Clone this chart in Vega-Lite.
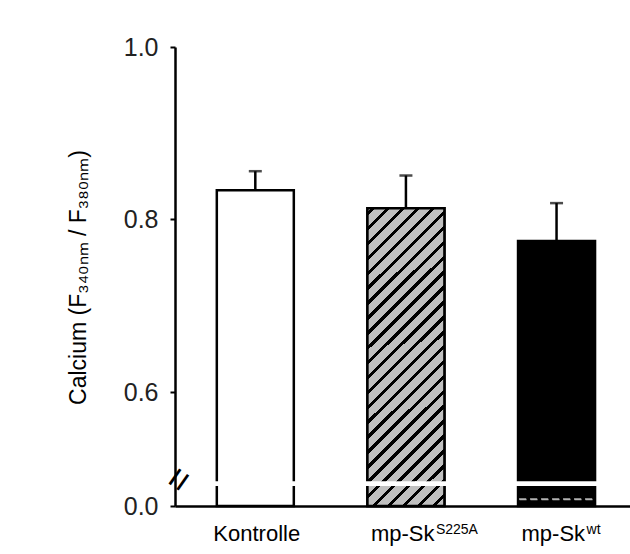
{
  "$schema": "https://vega.github.io/schema/vega-lite/v6.json",
  "width": 455,
  "height": 459,
  "autosize": "none",
  "padding": {"left": 175, "top": 47, "right": 0, "bottom": 48},
  "background": "white",
  "config": {"view": {"stroke": null}, "font": "Liberation Sans"},
  "data": {
    "values": [
      {"idx": 1, "group": "Kontrolle", "label": "Kontrolle", "sup": "", "mean": 0.834, "upper": 0.856},
      {"idx": 2, "group": "S225A", "label": "mp-Sk", "sup": "S225A", "mean": 0.813, "upper": 0.851},
      {"idx": 3, "group": "wt", "label": "mp-Sk", "sup": "wt", "mean": 0.775, "upper": 0.819}
    ]
  },
  "encoding": {
    "x": {
      "field": "idx",
      "type": "quantitative",
      "scale": {"domain": [0.5, 3.4545], "nice": false, "zero": false},
      "axis": {"title": null, "labels": false, "ticks": false, "grid": false, "domainColor": "black", "domainWidth": 2.5}
    }
  },
  "layer": [
    {
      "mark": {"type": "bar", "orient": "vertical", "width": 77, "stroke": "black", "strokeWidth": 2.5},
      "encoding": {
        "y": {
          "field": "mean",
          "type": "quantitative",
          "scale": {"domain": [0, 0.6, 1.0], "range": [459, 345, 0], "nice": false, "zero": false},
          "axis": {
            "title": "Calcium (F₃₄₀ₙₘ / F₃₈₀ₙₘ)",
            "values": [0, 0.6, 0.8, 1.0],
            "format": ".1f",
            "grid": false,
            "domainColor": "black",
            "domainWidth": 2.5,
            "tickColor": "black",
            "tickWidth": 2,
            "tickSize": 5,
            "labelFontSize": 25,
            "labelColor": "#222222",
            "labelPadding": 12,
            "labelFlush": false,
            "labelOverlap": false,
            "labelFont": "Liberation Sans",
            "titleFont": "Liberation Sans",
            "titleFontSize": 23,
            "titleFontWeight": "normal",
            "titleColor": "black",
            "titleX": -97,
            "titleY": 230,
            "titleAngle": -90,
            "titleAlign": "center",
            "titleBaseline": "middle"
          }
        },
        "y2": {"datum": 0},
        "fill": {
          "field": "group",
          "type": "nominal",
          "scale": {"domain": ["Kontrolle", "S225A", "wt"], "range": ["white", "#c0c0c0", "black"]},
          "legend": null
        }
      }
    },
    {
      "transform": [{"filter": "datum.group === 'S225A'"}],
      "mark": {
        "type": "bar",
        "orient": "vertical",
        "width": 77,
        "stroke": "black",
        "strokeWidth": 2.5,
        "fill": {
          "gradient": "linear",
          "x1": 0, "y1": 0, "x2": 0.303, "y2": 1.179,
          "stops": [
            {"offset": 0, "color": "#c0c0c0"},
            {"offset": 0.0100, "color": "#c0c0c0"}, {"offset": 0.0100, "color": "black"}, {"offset": 0.0220, "color": "black"}, {"offset": 0.0220, "color": "#c0c0c0"},
            {"offset": 0.0498, "color": "#c0c0c0"}, {"offset": 0.0498, "color": "black"}, {"offset": 0.0618, "color": "black"}, {"offset": 0.0618, "color": "#c0c0c0"},
            {"offset": 0.0896, "color": "#c0c0c0"}, {"offset": 0.0896, "color": "black"}, {"offset": 0.1016, "color": "black"}, {"offset": 0.1016, "color": "#c0c0c0"},
            {"offset": 0.1294, "color": "#c0c0c0"}, {"offset": 0.1294, "color": "black"}, {"offset": 0.1414, "color": "black"}, {"offset": 0.1414, "color": "#c0c0c0"},
            {"offset": 0.1692, "color": "#c0c0c0"}, {"offset": 0.1692, "color": "black"}, {"offset": 0.1812, "color": "black"}, {"offset": 0.1812, "color": "#c0c0c0"},
            {"offset": 0.2090, "color": "#c0c0c0"}, {"offset": 0.2090, "color": "black"}, {"offset": 0.2210, "color": "black"}, {"offset": 0.2210, "color": "#c0c0c0"},
            {"offset": 0.2488, "color": "#c0c0c0"}, {"offset": 0.2488, "color": "black"}, {"offset": 0.2608, "color": "black"}, {"offset": 0.2608, "color": "#c0c0c0"},
            {"offset": 0.2886, "color": "#c0c0c0"}, {"offset": 0.2886, "color": "black"}, {"offset": 0.3006, "color": "black"}, {"offset": 0.3006, "color": "#c0c0c0"},
            {"offset": 0.3284, "color": "#c0c0c0"}, {"offset": 0.3284, "color": "black"}, {"offset": 0.3404, "color": "black"}, {"offset": 0.3404, "color": "#c0c0c0"},
            {"offset": 0.3682, "color": "#c0c0c0"}, {"offset": 0.3682, "color": "black"}, {"offset": 0.3802, "color": "black"}, {"offset": 0.3802, "color": "#c0c0c0"},
            {"offset": 0.4080, "color": "#c0c0c0"}, {"offset": 0.4080, "color": "black"}, {"offset": 0.4200, "color": "black"}, {"offset": 0.4200, "color": "#c0c0c0"},
            {"offset": 0.4478, "color": "#c0c0c0"}, {"offset": 0.4478, "color": "black"}, {"offset": 0.4598, "color": "black"}, {"offset": 0.4598, "color": "#c0c0c0"},
            {"offset": 0.4876, "color": "#c0c0c0"}, {"offset": 0.4876, "color": "black"}, {"offset": 0.4996, "color": "black"}, {"offset": 0.4996, "color": "#c0c0c0"},
            {"offset": 0.5274, "color": "#c0c0c0"}, {"offset": 0.5274, "color": "black"}, {"offset": 0.5394, "color": "black"}, {"offset": 0.5394, "color": "#c0c0c0"},
            {"offset": 0.5672, "color": "#c0c0c0"}, {"offset": 0.5672, "color": "black"}, {"offset": 0.5792, "color": "black"}, {"offset": 0.5792, "color": "#c0c0c0"},
            {"offset": 0.6070, "color": "#c0c0c0"}, {"offset": 0.6070, "color": "black"}, {"offset": 0.6190, "color": "black"}, {"offset": 0.6190, "color": "#c0c0c0"},
            {"offset": 0.6468, "color": "#c0c0c0"}, {"offset": 0.6468, "color": "black"}, {"offset": 0.6588, "color": "black"}, {"offset": 0.6588, "color": "#c0c0c0"},
            {"offset": 0.6866, "color": "#c0c0c0"}, {"offset": 0.6866, "color": "black"}, {"offset": 0.6986, "color": "black"}, {"offset": 0.6986, "color": "#c0c0c0"},
            {"offset": 0.7264, "color": "#c0c0c0"}, {"offset": 0.7264, "color": "black"}, {"offset": 0.7384, "color": "black"}, {"offset": 0.7384, "color": "#c0c0c0"},
            {"offset": 0.7662, "color": "#c0c0c0"}, {"offset": 0.7662, "color": "black"}, {"offset": 0.7782, "color": "black"}, {"offset": 0.7782, "color": "#c0c0c0"},
            {"offset": 0.8060, "color": "#c0c0c0"}, {"offset": 0.8060, "color": "black"}, {"offset": 0.8180, "color": "black"}, {"offset": 0.8180, "color": "#c0c0c0"},
            {"offset": 0.8458, "color": "#c0c0c0"}, {"offset": 0.8458, "color": "black"}, {"offset": 0.8578, "color": "black"}, {"offset": 0.8578, "color": "#c0c0c0"},
            {"offset": 0.8856, "color": "#c0c0c0"}, {"offset": 0.8856, "color": "black"}, {"offset": 0.8976, "color": "black"}, {"offset": 0.8976, "color": "#c0c0c0"},
            {"offset": 0.9254, "color": "#c0c0c0"}, {"offset": 0.9254, "color": "black"}, {"offset": 0.9374, "color": "black"}, {"offset": 0.9374, "color": "#c0c0c0"},
            {"offset": 0.9652, "color": "#c0c0c0"}, {"offset": 0.9652, "color": "black"}, {"offset": 0.9772, "color": "black"}, {"offset": 0.9772, "color": "#c0c0c0"},
            {"offset": 1, "color": "#c0c0c0"}
          ]
        }
      },
      "encoding": {
        "y": {"field": "mean", "type": "quantitative"},
        "y2": {"datum": 0}
      }
    },
    {
      "mark": {"type": "bar", "orient": "vertical", "width": 83, "fill": "white", "stroke": null},
      "encoding": {
        "y": {"datum": 0.105},
        "y2": {"datum": 0.13}
      }
    },
    {
      "transform": [{"filter": "datum.group === 'wt'"}],
      "mark": {"type": "tick", "orient": "horizontal", "size": 75, "thickness": 0.5, "filled": false, "stroke": "white", "strokeWidth": 1.5, "strokeDash": [7, 4]},
      "encoding": {
        "y": {"datum": 0.035}
      }
    },
    {
      "mark": {"type": "rule", "strokeWidth": 2.5, "color": "black"},
      "encoding": {
        "y": {"field": "mean", "type": "quantitative"},
        "y2": {"field": "upper"}
      }
    },
    {
      "mark": {"type": "tick", "orient": "horizontal", "size": 13, "thickness": 2.5, "color": "black"},
      "encoding": {
        "y": {"field": "upper", "type": "quantitative"}
      }
    },
    {
      "transform": [{"filter": "datum.idx === 1"}],
      "mark": {"type": "text", "text": "=", "angle": -55, "fontSize": 38, "color": "black", "font": "Liberation Sans"},
      "encoding": {
        "x": {"datum": 0.5},
        "y": {"datum": 0.135}
      }
    },
    {
      "transform": [{"filter": "datum.idx === 1"}],
      "mark": {"type": "text", "align": "left", "baseline": "alphabetic", "dx": -42, "dy": 35, "fontSize": 22, "font": "Liberation Sans", "color": "black"},
      "encoding": {
        "y": {"datum": 0},
        "text": {"field": "label"}
      }
    },
    {
      "transform": [{"filter": "datum.idx !== 1"}],
      "mark": {"type": "text", "align": "left", "baseline": "alphabetic", "dx": -35, "dy": 35, "fontSize": 22, "font": "Liberation Sans", "color": "black"},
      "encoding": {
        "y": {"datum": 0},
        "text": {"field": "label"}
      }
    },
    {
      "transform": [{"filter": "datum.sup !== ''"}],
      "mark": {"type": "text", "align": "left", "baseline": "alphabetic", "dx": 30, "dy": 28, "fontSize": 14, "font": "Liberation Sans", "color": "black"},
      "encoding": {
        "y": {"datum": 0},
        "text": {"field": "sup"}
      }
    }
  ]
}
